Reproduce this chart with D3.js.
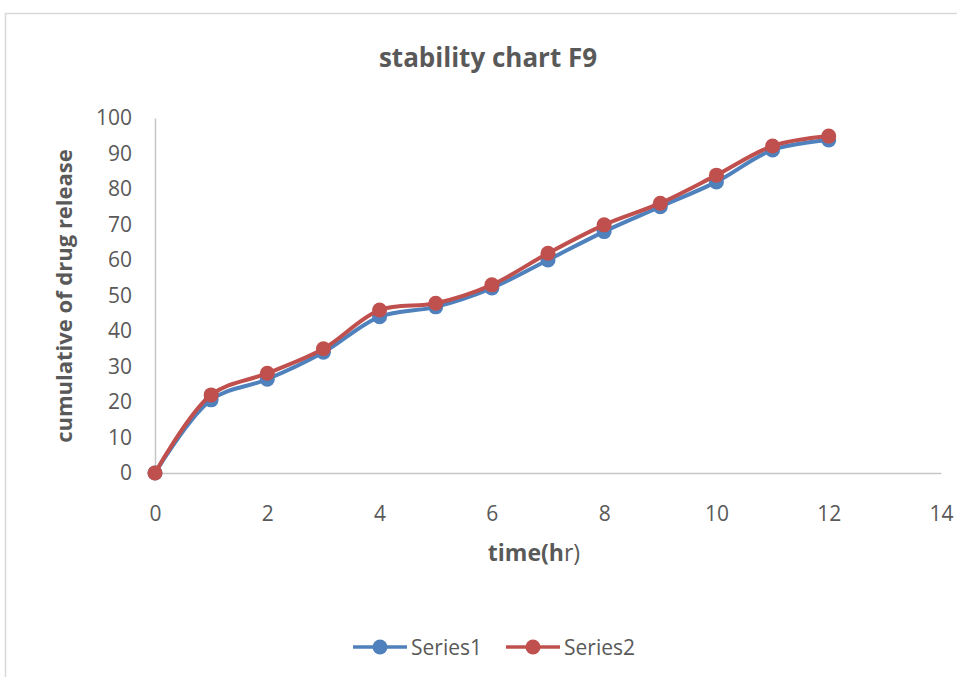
<!DOCTYPE html>
<html>
<head>
<meta charset="utf-8">
<script src="https://cdn.jsdelivr.net/npm/d3@7"></script>
<style>
  body { margin: 0; background: #fff; }
  text { font-family: "Open Sans", "Noto Sans", sans-serif; }
</style>
</head>
<body>
<svg id="chart"></svg>
<script>
var hours   = [0, 1, 2, 3, 4, 5, 6, 7, 8, 9, 10, 11, 12];
var series1 = [0, 20.6, 26.4, 34, 44, 46.8, 52.1, 60, 68, 75, 82, 91, 93.8];
var series2 = [0, 22, 28.1, 35, 45.9, 47.8, 53, 61.9, 69.9, 76, 83.9, 92.1, 94.9];
var xTicks  = [0, 2, 4, 6, 8, 10, 12, 14];
var yTicks  = [0, 10, 20, 30, 40, 50, 60, 70, 80, 90, 100];

var W = 957, H = 677;

var svg = d3.select("#chart")
  .attr("width", W)
  .attr("height", H);

// chart area border
svg.append("rect")
  .attr("x", 5.5).attr("y", 13.5)
  .attr("width", 980).attr("height", 700)
  .attr("fill", "#fff")
  .attr("stroke", "#d9d9d9")
  .attr("stroke-width", 1.5);

var x = d3.scaleLinear().domain([0, 14]).range([155, 941]);
var y = d3.scaleLinear().domain([0, 100]).range([473, 118]);

// axes
var xAxis = svg.append("g")
  .attr("transform", "translate(0," + y(0) + ")")
  .call(d3.axisBottom(x).tickValues(xTicks).tickSize(0).tickPadding(33));
xAxis.select(".domain").attr("stroke", "#c6c6c6").attr("stroke-width", 1.5);
xAxis.selectAll("text")
  .attr("fill", "#595959")
  .style("font-size", "21px");

var yAxis = svg.append("g")
  .attr("transform", "translate(" + x(0) + ",0)")
  .call(d3.axisLeft(y).tickValues(yTicks).tickSize(0).tickPadding(23));
yAxis.select(".domain").attr("stroke", "#c6c6c6").attr("stroke-width", 1.5);
yAxis.selectAll("text")
  .attr("fill", "#595959")
  .style("font-size", "21px");

// titles
svg.append("text")
  .attr("x", 488).attr("y", 67)
  .attr("text-anchor", "middle")
  .attr("fill", "#595959")
  .style("font-size", "26px")
  .style("font-weight", "bold")
  .text("stability chart F9");

var xt = svg.append("text")
  .attr("x", 534).attr("y", 561)
  .attr("text-anchor", "middle")
  .attr("fill", "#595959")
  .style("font-size", "23px");
xt.append("tspan").style("font-weight", "bold").text("time(h");
xt.append("tspan").text("r)");

svg.append("text")
  .attr("transform", "translate(72," + 296 + ") rotate(-90)")
  .attr("text-anchor", "middle")
  .attr("fill", "#595959")
  .style("font-size", "22px")
  .style("font-weight", "bold")
  .text("cumulative of drug release");

// lines
var line = d3.line()
  .x(function(d) { return x(d[0]); })
  .y(function(d) { return y(d[1]); })
  .curve(d3.curveCatmullRom.alpha(0.5));

var series = [
  { name: "Series1", values: series1, color: "#4f81bd" },
  { name: "Series2", values: series2, color: "#c0504d" }
];

series.forEach(function(s) {
  var pts = hours.map(function(h, i) { return [h, s.values[i]]; });
  svg.append("path")
    .datum(pts)
    .attr("d", line)
    .attr("fill", "none")
    .attr("stroke", s.color)
    .attr("stroke-width", 4);
  svg.selectAll(null)
    .data(pts)
    .enter()
    .append("circle")
    .attr("fill", s.color)
    .attr("r", 7.5)
    .attr("cx", function(d) { return x(d[0]); })
    .attr("cy", function(d) { return y(d[1]); });
});

// legend
var legendX = [353, 506];
series.forEach(function(s, i) {
  var g = svg.append("g").attr("transform", "translate(" + legendX[i] + ",647)");
  g.append("line")
    .attr("x1", 0).attr("x2", 54)
    .attr("stroke", s.color)
    .attr("stroke-width", 3.5);
  g.append("circle")
    .attr("cx", 27).attr("r", 7.5)
    .attr("fill", s.color);
  g.append("text")
    .attr("x", 58).attr("y", 8)
    .attr("fill", "#595959")
    .style("font-size", "21px")
    .text(s.name);
});
</script>
</body>
</html>
